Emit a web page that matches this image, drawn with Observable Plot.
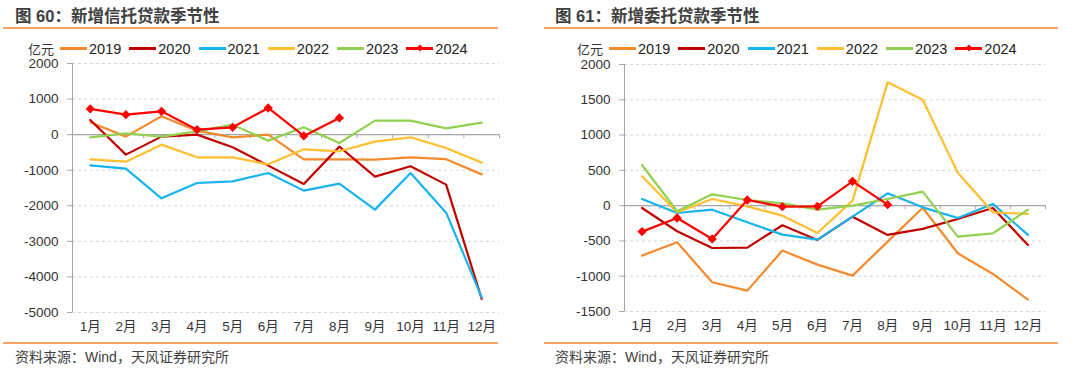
<!DOCTYPE html>
<html><head><meta charset="utf-8">
<script src="https://cdn.jsdelivr.net/npm/d3@7"></script>
<script src="https://cdn.jsdelivr.net/npm/@observablehq/plot@0.6"></script>
<style>
body{margin:0;width:1080px;height:372px;background:#fff;overflow:hidden;font-family:"Liberation Sans","Noto Sans CJK SC",sans-serif;}
.panel{position:absolute;top:0;width:540px;height:372px;}
.title{position:absolute;left:15px;top:3px;font-size:16.5px;font-weight:bold;color:#404040;white-space:nowrap;}
.rule{position:absolute;height:2px;background:#F5A462;}
.legend{position:absolute;top:39px;display:flex;align-items:center;font-size:14.5px;color:#222;white-space:nowrap;}
.unit{font-size:13px;color:#333;margin-right:6px;}
.item{display:flex;align-items:center;}
.sw{position:relative;width:27px;height:2.5px;margin-right:2px;}
.sw .dm{position:absolute;left:10.5px;top:-2.5px;width:6px;height:6px;transform:rotate(45deg) scale(0.8);}
.txt{margin-right:8px;}
.plot{position:absolute;top:55px;left:0;}
.src{position:absolute;left:15px;top:346px;font-size:14px;color:#404040;white-space:nowrap;}
</style>
</head><body>
<div class="panel" id="p1" style="left:0"></div>
<div class="panel" id="p2" style="left:540px"></div>
<script>
const months = [1,2,3,4,5,6,7,8,9,10,11,12];
const monthLabels = ["1月","2月","3月","4月","5月","6月","7月","8月","9月","10月","11月","12月"];
const years = ["2019","2020","2021","2022","2023","2024"];
const colors = ["#F58A2E","#C00000","#17B3EE","#FFBF30","#92D050","#FF0000"];

// 图60 新增信托贷款（亿元）
const trust2019 = [347,-56,515,112,-75,0,-693,-693,-700,-637,-690,-1117];
const trust2020 = [412,-562,-56,0,-356,-871,-1387,-337,-1181,-890,-1405,-4620];
const trust2021 = [-862,-956,-1790,-1360,-1312,-1078,-1574,-1378,-2108,-1078,-2193,-4573];
const trust2022 = [-693,-759,-281,-637,-637,-834,-412,-468,-197,-75,-375,-787];
const trust2023 = [-75,37,-56,94,281,-169,206,-234,394,394,178,337];
const trust2024 = [723,562,656,140,206,750,-37,470];
const trustTicks = [-5000,-4000,-3000,-2000,-1000,0,1000,2000];

// 图61 新增委托贷款（亿元）
const entrust2019 = [-708,-519,-1086,-1204,-637,-836,-992,-510,-30,-675,-968,-1331];
const entrust2020 = [-33,-363,-600,-595,-278,-486,-156,-415,-330,-189,-33,-557];
const entrust2021 = [94,-104,-57,-236,-411,-482,-156,175,-24,-175,24,-415];
const entrust2022 = [416,-94,94,-10,-142,-387,71,1747,1501,467,-94,-118];
const entrust2023 = [576,-80,160,80,33,-57,0,94,198,-439,-392,-57];
const entrust2024 = [-368,-175,-472,80,-14,-10,345,14];
const entrustTicks = [-1500,-1000,-500,0,500,1000,1500,2000];

const boundaries = [1.5,2.5,3.5,4.5,5.5,6.5,7.5,8.5,9.5,10.5,11.5,12.5];

function makeChart(series, ticks, m) {
  const data = [];
  years.forEach((yr, i) => series[i].forEach((v, j) => data.push({month: months[j], year: yr, value: v})));
  return Plot.plot({
    width: 540, height: 285,
    marginLeft: m.left, marginRight: m.right, marginTop: m.top, marginBottom: m.bottom,
    style: {fontFamily: "Liberation Sans, Noto Sans CJK SC, sans-serif", fontSize: "13.5px", color: "#333", background: "transparent"},
    x: {type: "linear", domain: [0.5, 12.5], label: null},
    y: {domain: [ticks[0], ticks[ticks.length - 1]], label: null},
    color: {domain: years, range: colors},
    marks: [
      Plot.gridY(ticks, {stroke: "#d4d4d4", strokeOpacity: 1, strokeDasharray: "3,3"}),
      Plot.ruleX([0.5], {stroke: "#a6a6a6"}),
      Plot.ruleY([0], {stroke: "#a6a6a6", strokeWidth: 1.2}),
      Plot.ruleX(boundaries, {y1: () => 0, y2: () => 0, insetBottom: -4, stroke: "#a6a6a6"}),
      Plot.axisY(ticks, {tickSize: 5, tickPadding: 9, stroke: "#a6a6a6", fill: "#333", label: null, tickFormat: d => String(d)}),
      Plot.axisX(months, {tickSize: 0, tickPadding: 9, fill: "#333", label: null, tickFormat: d => monthLabels[d - 1]}),
      Plot.line(data, {x: "month", y: "value", stroke: "year", z: "year", strokeWidth: 2.2}),
      Plot.dot(data.filter(d => d.year === "2024"), {x: "month", y: "value", fill: "#FF0000", symbol: "diamond2", r: 4.2})
    ]
  });
}

function buildPanel(el, cfg) {
  const t = document.createElement("div"); t.className = "title"; t.textContent = cfg.title; el.appendChild(t);
  const r1 = document.createElement("div"); r1.className = "rule";
  r1.style.cssText = `left:${cfg.ruleLeft}px;width:${cfg.ruleWidth}px;top:27px;`; el.appendChild(r1);
  const lg = document.createElement("div"); lg.className = "legend"; lg.style.left = cfg.legendLeft + "px";
  const u = document.createElement("span"); u.className = "unit"; u.textContent = "亿元"; lg.appendChild(u);
  years.forEach((yr, i) => {
    const it = document.createElement("span"); it.className = "item";
    const sw = document.createElement("span"); sw.className = "sw"; sw.style.background = colors[i];
    if (yr === "2024") { const dm = document.createElement("span"); dm.className = "dm"; dm.style.background = colors[i]; sw.appendChild(dm); }
    const tx = document.createElement("span"); tx.className = "txt"; tx.textContent = yr;
    it.appendChild(sw); it.appendChild(tx); lg.appendChild(it);
  });
  el.appendChild(lg);
  const svg = cfg.chart; svg.classList.add("plot"); el.appendChild(svg);
  const r2 = document.createElement("div"); r2.className = "rule";
  r2.style.cssText = `left:${cfg.ruleLeft}px;width:${cfg.ruleWidth}px;top:342px;`; el.appendChild(r2);
  const s = document.createElement("div"); s.className = "src"; s.textContent = "资料来源：Wind，天风证券研究所"; el.appendChild(s);
}

buildPanel(document.getElementById("p1"), {
  title: "图 60：新增信托贷款季节性", ruleLeft: 3, ruleWidth: 495, legendLeft: 28,
  chart: makeChart([trust2019, trust2020, trust2021, trust2022, trust2023, trust2024], trustTicks, {left: 72, right: 41, top: 8, bottom: 28})
});
buildPanel(document.getElementById("p2"), {
  title: "图 61：新增委托贷款季节性", ruleLeft: 4, ruleWidth: 514, legendLeft: 37,
  chart: makeChart([entrust2019, entrust2020, entrust2021, entrust2022, entrust2023, entrust2024], entrustTicks, {left: 84, right: 35, top: 9, bottom: 29})
});
</script>
</body></html>
